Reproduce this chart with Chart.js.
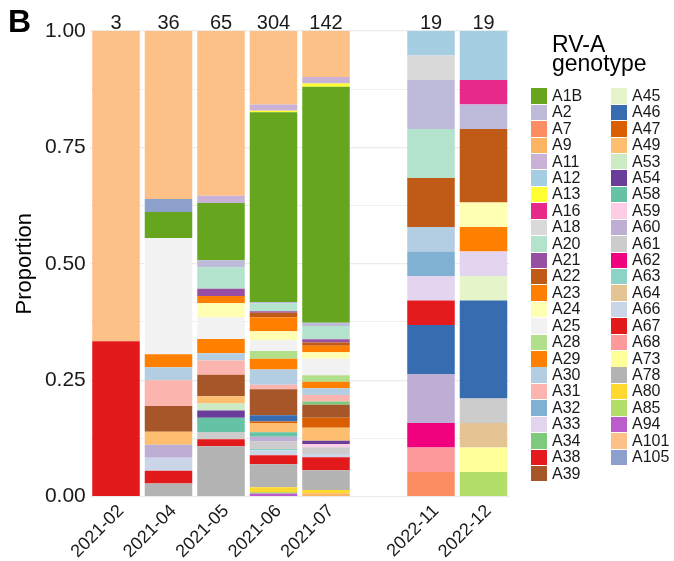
<!DOCTYPE html>
<html>
<head>
<meta charset="utf-8">
<script src="https://cdn.jsdelivr.net/npm/chart.js"></script>
<style>
    body { margin: 0; background: #fff; }
    #wrap { position: relative; width: 674px; height: 561px; font-family: "Liberation Sans", Arial, sans-serif; }
    #legend { position: absolute; left: 0; top: 0; width: 674px; height: 561px; pointer-events: none; }
    .lg-title { position: absolute; left: 552px; top: 34.6px; font-size: 23px; line-height: 19.5px; color: #000; }
    .lg-key { position: absolute; width: 16px; height: 15.5px; }
    .lg-text { position: absolute; font-size: 16px; line-height: 16.42px; color: #1a1a1a; white-space: nowrap; }
</style>
</head>
<body>
<div id="wrap">
    <canvas id="genotype-chart" width="674" height="561"></canvas>
    <div id="legend">
        <div class="lg-title">RV-A<br>genotype</div>
    </div>
</div>
<script>
    // start: data
    const months = ['2021-02', '2021-04', '2021-05', '2021-06', '2021-07', '', '2022-11', '2022-12'];

    const genotypes = [
        'A1B', 'A2', 'A7', 'A9', 'A11', 'A12', 'A13', 'A16', 'A18', 'A20', 'A21', 'A22',
        'A23', 'A24', 'A25', 'A28', 'A29', 'A30', 'A31', 'A32', 'A33', 'A34', 'A38', 'A39',
        'A45', 'A46', 'A47', 'A49', 'A53', 'A54', 'A58', 'A59', 'A60', 'A61', 'A62', 'A63',
        'A64', 'A66', 'A67', 'A68', 'A73', 'A78', 'A80', 'A85', 'A94', 'A101', 'A105',
    ];

    const colors = [
        '#66a61e', '#bebada', '#fc8d62', '#fdb462', '#cab2d6', '#a6cee3', '#ffff33', '#e7298a',
        '#d9d9d9', '#b3e2cd', '#984ea3', '#bf5b17', '#ff7f00', '#ffffb3', '#f2f2f2', '#b2df8a',
        '#ff7f00', '#b3cde3', '#fbb4ae', '#80b1d3', '#e3d5f0', '#7fc97f', '#e41a1c', '#a65628',
        '#e6f5c9', '#386cb0', '#d95f02', '#fdbf6f', '#ccebc5', '#6a3d9a', '#66c2a5', '#fccde5',
        '#beaed4', '#cccccc', '#f0027f', '#8dd3c7', '#e5c494', '#cbd5e8', '#e31a1c', '#fb9a99',
        '#ffff99', '#b3b3b3', '#ffd92f', '#b3de69', '#bc5ccc', '#fdc086', '#8da0cb',
    ];

    // sample counts per month: [genotype, n]
    const feb21 = [['A67', 1], ['A101', 2]];
    const apr21 = [['A78', 1], ['A67', 1], ['A66', 1], ['A60', 1], ['A49', 1], ['A39', 2], ['A31', 2],
        ['A30', 1], ['A29', 1], ['A25', 9], ['A1B', 2], ['A105', 1], ['A101', 13]];
    const may21 = [['A78', 7], ['A67', 1], ['A61', 1], ['A58', 2], ['A54', 1], ['A53', 1], ['A49', 1],
        ['A39', 3], ['A31', 2], ['A30', 1], ['A29', 2], ['A25', 3], ['A24', 2], ['A23', 1], ['A21', 1],
        ['A20', 3], ['A2', 1], ['A1B', 8], ['A11', 1], ['A101', 23]];
    const jun21 = [['A94', 2], ['A85', 1], ['A80', 3], ['A78', 15], ['A67', 6], ['A66', 3], ['A63', 1],
        ['A61', 5], ['A60', 3], ['A58', 3], ['A49', 6], ['A47', 1], ['A46', 4], ['A39', 17], ['A31', 3],
        ['A30', 10], ['A29', 7], ['A28', 5], ['A25', 7], ['A24', 6], ['A23', 9], ['A22', 3], ['A21', 1],
        ['A20', 5], ['A2', 1], ['A1B', 124], ['A13', 1], ['A11', 4], ['A101', 48]];
    const jul21 = [['A9', 1], ['A80', 1], ['A78', 6], ['A67', 4], ['A66', 1], ['A61', 2], ['A59', 1],
        ['A54', 1], ['A49', 4], ['A47', 3], ['A39', 4], ['A34', 1], ['A31', 2], ['A30', 2], ['A29', 2],
        ['A28', 2], ['A25', 5], ['A24', 2], ['A23', 2], ['A22', 1], ['A21', 1], ['A20', 4], ['A2', 1],
        ['A1B', 72], ['A13', 1], ['A11', 2], ['A101', 14]];
    const nov22 = [['A7', 1], ['A68', 1], ['A62', 1], ['A60', 2], ['A46', 2], ['A38', 1], ['A33', 1],
        ['A32', 1], ['A30', 1], ['A22', 2], ['A20', 2], ['A2', 2], ['A18', 1], ['A12', 1]];
    const dec22 = [['A85', 1], ['A73', 1], ['A64', 1], ['A61', 1], ['A46', 4], ['A45', 1], ['A33', 1],
        ['A29', 1], ['A24', 1], ['A22', 3], ['A2', 1], ['A16', 1], ['A12', 2]];

    const monthCounts = [feb21, apr21, may21, jun21, jul21, [], nov22, dec22];
    // end: data

    const totals = monthCounts.map(m => m.reduce((s, p) => s + p[1], 0));

    // ggplot stacks by factor level (string sort), last level at the bottom
    const stackOrder = genotypes.slice().sort().reverse();

    const datasets = stackOrder.map(g => ({
        label: g,
        backgroundColor: colors[genotypes.indexOf(g)],
        borderWidth: 0,
        data: monthCounts.map((m, i) => {
            const hit = m.find(p => p[0] === g);
            return hit ? hit[1] / totals[i] : null;
        }),
    }));

    const fontFamily = '"Liberation Sans", Arial, sans-serif';

    const textPlugin = {
        id: 'textPlugin',
        afterDraw(chart) {
            const ctx = chart.ctx;
            const x = chart.scales.x;
            ctx.save();
            ctx.fillStyle = '#1a1a1a';
            ctx.font = '20px ' + fontFamily;
            ctx.textAlign = 'center';
            ctx.textBaseline = 'alphabetic';
            totals.forEach((n, i) => {
                if (n > 0) ctx.fillText(String(n), x.getPixelForValue(i), chart.chartArea.top - 2.5);
            });
            ctx.fillStyle = '#000';
            ctx.font = 'bold 32px ' + fontFamily;
            ctx.textAlign = 'left';
            ctx.fillText('B', 8, 31.7);
            ctx.restore();
        }
    };

    new Chart(document.getElementById('genotype-chart'), {
        type: 'bar',
        data: {
            labels: months,
            datasets: datasets,
        },
        options: {
            responsive: false,
            animation: false,
            layout: {
                padding: { top: 31, right: 164.25, bottom: 0, left: 0 }
            },
            datasets: {
                bar: { barPercentage: 0.905, categoryPercentage: 1 }
            },
            plugins: {
                legend: { display: false },
                tooltip: { enabled: false },
            },
            scales: {
                x: {
                    stacked: true,
                    grid: { display: false },
                    border: { display: false },
                    ticks: {
                        color: '#1a1a1a',
                        font: { family: fontFamily, size: 18 },
                        minRotation: 45,
                        maxRotation: 45,
                        padding: -4,
                        labelOffset: 5,
                        autoSkip: false,
                    },
                    afterFit(scale) { scale.height = 64.5; },
                },
                y: {
                    stacked: true,
                    min: 0,
                    max: 1,
                    border: { display: false },
                    grid: {
                        color: '#ebebeb',
                        lineWidth: ctx => (Math.abs(ctx.tick.value * 4 - Math.round(ctx.tick.value * 4)) < 1e-6 ? 1.2 : 0.8),
                        drawTicks: false,
                    },
                    ticks: {
                        stepSize: 0.125,
                        color: '#1a1a1a',
                        font: { family: fontFamily, size: 21 },
                        padding: 4,
                        callback: v => (Math.abs(v * 4 - Math.round(v * 4)) < 1e-6 ? v.toFixed(2) : ''),
                    },
                    title: {
                        display: true,
                        text: 'Proportion',
                        color: '#000',
                        font: { family: fontFamily, size: 22 },
                        padding: { top: 12, bottom: 0 },
                    },
                    afterFit(scale) { scale.width = 89.75; },
                },
            },
        },
        plugins: [textPlugin],
    });

    // legend, two columns filled top to bottom like ggplot
    const legendBox = document.getElementById('legend');
    const rows = Math.ceil(genotypes.length / 2);
    genotypes.forEach((g, i) => {
        const col = Math.floor(i / rows);
        const row = i % rows;
        const top = 88.3 + row * 16.42;
        const key = document.createElement('div');
        key.className = 'lg-key';
        key.style.left = (531 + col * 80) + 'px';
        key.style.top = top + 'px';
        key.style.background = colors[i];
        legendBox.appendChild(key);
        const txt = document.createElement('div');
        txt.className = 'lg-text';
        txt.style.left = (552 + col * 80) + 'px';
        txt.style.top = (top - 0.45) + 'px';
        txt.textContent = g;
        legendBox.appendChild(txt);
    });
</script>
</body>
</html>
